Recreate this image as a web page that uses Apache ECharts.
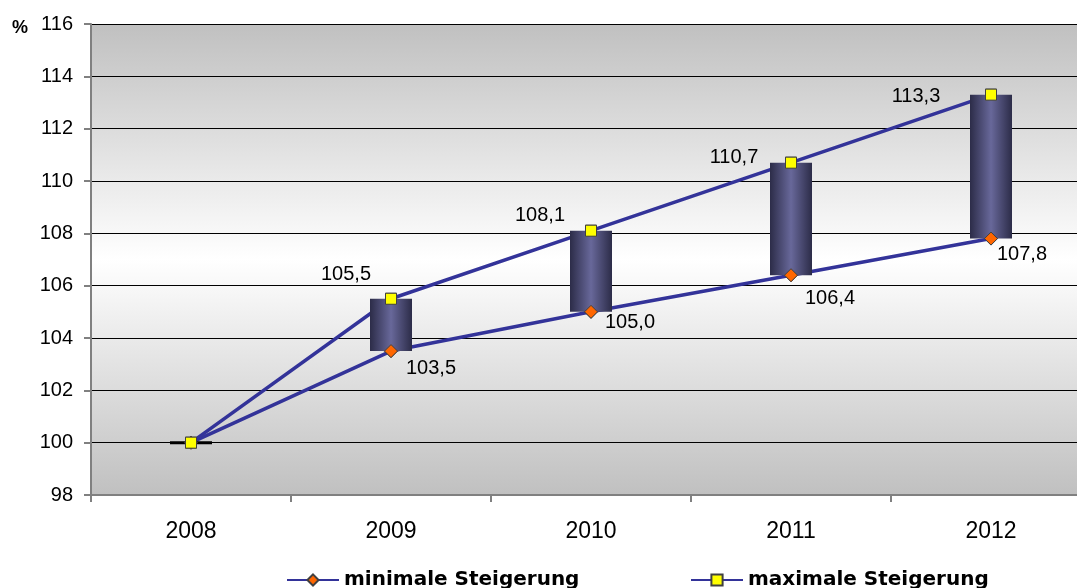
<!DOCTYPE html>
<html>
<head>
<meta charset="utf-8">
<script src="https://cdn.jsdelivr.net/npm/echarts@6/dist/echarts.min.js"></script>
<style>
html,body{margin:0;padding:0;background:#fff;overflow:hidden;width:1077px;height:588px;}
#chart{width:1091px;height:588px;}
</style>
</head>
<body>
<div id="chart"></div>
<script>
const years = ['2008', '2009', '2010', '2011', '2012'];
const minValues = [100, 103.5, 105.0, 106.4, 107.8];
const maxValues = [100, 105.5, 108.1, 110.7, 113.3];
const yMin = 98, yMax = 116, yStep = 2;
const seriesNames = ['minimale Steigerung', 'maximale Steigerung'];

// label placement (style only)
const maxLabelOffsets = [null, [-45, -24], [-51, -15], [-57, -5], [-75, 2]];
const minLabelOffsets = [null, [40, 17], [39, 11], [39, 23], [31, 16]];

const FONT = 'Liberation Sans, Arial, sans-serif';
const fmt = v => v.toFixed(1).replace('.', ',');

const chart = echarts.init(document.getElementById('chart'));

const barGradient = new echarts.graphic.LinearGradient(0, 0, 1, 0, [
  {offset: 0, color: '#2c2c48'},
  {offset: 0.5, color: '#68689a'},
  {offset: 1, color: '#2c2c48'}
]);

function labelData(values, offsets) {
  return values.map((v, i) => ({
    value: [i, v],
    label: offsets[i] ? {show: true, position: 'inside', offset: offsets[i], formatter: () => fmt(v)} : {show: false}
  }));
}

const legendText = {fontSize: 20, fontWeight: 'bold', color: '#000', fontFamily: 'DejaVu Sans, sans-serif'};

const option = {
  animation: false,
  backgroundColor: '#ffffff',
  textStyle: {fontFamily: FONT},
  grid: {
    left: 91, right: 0, top: 24, bottom: 93,
    show: true,
    borderWidth: 0,
    backgroundColor: new echarts.graphic.LinearGradient(0, 0, 0, 1, [
      {offset: 0, color: '#c0c0c0'},
      {offset: 0.5, color: '#ffffff'},
      {offset: 1, color: '#c0c0c0'}
    ])
  },
  graphic: [{
    type: 'text', left: 12, top: 19,
    style: {text: '%', font: 'bold 18px ' + FONT, fill: '#000'}
  }],
  legend: [
    {
      data: [seriesNames[0]], left: 281, top: 565,
      itemWidth: 52, itemHeight: 14, textStyle: legendText
    },
    {
      data: [seriesNames[1]], left: 685, top: 565,
      itemWidth: 52, itemHeight: 14, textStyle: legendText
    }
  ],
  xAxis: {
    type: 'category',
    data: years,
    axisLine: {lineStyle: {color: '#808080', width: 2}},
    axisTick: {show: true, length: 7, lineStyle: {color: '#808080', width: 2}},
    axisLabel: {fontSize: 23, color: '#000', margin: 25, fontFamily: FONT},
    splitLine: {show: false}
  },
  yAxis: {
    type: 'value',
    min: yMin, max: yMax, interval: yStep,
    axisLine: {show: true, lineStyle: {color: '#808080', width: 2}},
    axisTick: {show: true, length: 7, lineStyle: {color: '#808080', width: 2}},
    axisLabel: {fontSize: 20, color: '#000', margin: 18, fontFamily: FONT},
    splitLine: {show: true, lineStyle: {color: '#000', width: 1}}
  },
  series: [
    {
      name: seriesNames[0], type: 'line', z: 1,
      data: minValues,
      lineStyle: {color: '#333399', width: 3.5},
      itemStyle: {color: '#ff6600', borderColor: '#404040', borderWidth: 1},
      symbol: 'diamond', symbolSize: 13,
      label: {show: false}
    },
    {
      name: seriesNames[1], type: 'line', z: 1,
      data: maxValues,
      lineStyle: {color: '#333399', width: 3.5},
      itemStyle: {color: '#ffff00', borderColor: '#404040', borderWidth: 1},
      symbol: 'rect', symbolSize: 11,
      label: {show: false}
    },
    {
      name: 'range', type: 'custom', z: 2,
      data: years.map((y, i) => [i, minValues[i], maxValues[i]]),
      encode: {x: 0, y: [1, 2]},
      renderItem: function (params, api) {
        const x = api.value(0);
        const lo = api.coord([x, api.value(1)]);
        const hi = api.coord([x, api.value(2)]);
        const w = api.size([1, 0])[0] * 0.21;
        if (Math.abs(lo[1] - hi[1]) < 1) {
          return {type: 'line', shape: {x1: lo[0] - w / 2, y1: lo[1], x2: lo[0] + w / 2, y2: lo[1]},
                  style: {stroke: '#000', lineWidth: 3}};
        }
        return {type: 'rect', shape: {x: lo[0] - w / 2, y: hi[1], width: w, height: lo[1] - hi[1]},
                style: {fill: barGradient}};
      }
    },
    {
      name: 'minMarks', type: 'scatter', z: 3,
      data: labelData(minValues, minLabelOffsets),
      symbol: 'diamond', symbolSize: 13,
      itemStyle: {color: '#ff6600', borderColor: '#404040', borderWidth: 1, opacity: 1},
      label: {fontSize: 20, color: '#000', fontFamily: FONT}
    },
    {
      name: 'maxMarks', type: 'scatter', z: 4,
      data: labelData(maxValues, maxLabelOffsets),
      symbol: 'rect', symbolSize: 11,
      itemStyle: {color: '#ffff00', borderColor: '#404040', borderWidth: 1, opacity: 1},
      label: {fontSize: 20, color: '#000', fontFamily: FONT}
    }
  ]
};
chart.setOption(option);
</script>
</body>
</html>
